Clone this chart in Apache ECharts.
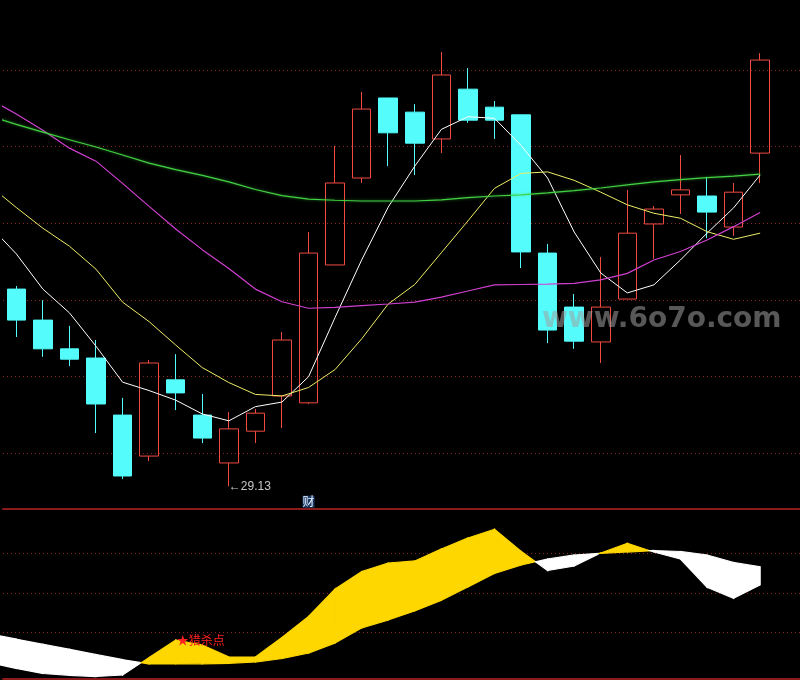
<!DOCTYPE html>
<html><head><meta charset="utf-8">
<script src="https://cdn.jsdelivr.net/npm/echarts@6/dist/echarts.min.js"></script>
<style>html,body{margin:0;padding:0;background:#000}#c{width:800px;height:680px}</style>
</head><body><div id="c"></div>
<script>
// ---- data ----
const categories = ['D00','D01','D02','D03','D04','D05','D06','D07','D08','D09','D10',
  'D11','D12','D13','D14','D15','D16','D17','D18','D19','D20',
  'D21','D22','D23','D24','D25','D26','D27','D28','D29','D30'];
// [open, close, low, high]
const candles = ['-',
  [34.28,33.47,33.03,34.36],[33.47,32.72,32.51,33.99],[32.72,32.45,32.27,33.32],
  [32.48,31.28,30.52,32.95],[30.99,29.40,29.32,31.44],[29.92,32.35,29.79,32.43],
  [31.91,31.57,31.12,32.58],[30.99,30.39,30.26,31.54],[29.74,30.63,29.13,31.07],
  [30.57,31.04,30.26,31.15],[31.49,32.95,30.65,33.16],[31.31,35.22,31.28,35.77],
  [34.91,37.05,34.91,38.02],[37.18,38.98,37.05,39.43],[39.27,38.36,37.49,39.27],
  [38.90,38.09,37.26,39.11],[38.20,39.87,37.83,40.47],[39.50,38.69,38.62,40.05],
  [39.03,38.69,38.20,39.19],[38.83,35.25,34.83,38.83],[35.22,33.21,32.87,35.46],
  [33.81,32.92,32.72,34.15],[32.90,33.81,32.35,35.12],[34.02,35.74,34.02,36.87],
  [35.98,36.37,35.07,36.45],[36.74,36.87,36.24,37.78],[36.71,36.29,35.61,37.21],
  [35.90,36.81,35.67,37.05],[37.83,40.26,37.05,40.44],'-'];
const ma5  = [35.93,35.20,34.28,33.66,32.79,31.85,31.63,31.38,31.02,30.84,31.21,31.33,31.99,33.54,35.04,36.42,37.49,38.45,38.78,38.74,38.03,37.18,35.77,34.70,34.18,34.39,35.04,35.74,36.40,37.26,'-'];
const ma10 = [36.98,36.41,35.87,35.40,34.80,33.94,33.43,32.82,32.23,31.84,31.53,31.49,31.71,32.18,32.98,33.89,34.40,35.23,36.06,36.91,37.30,37.34,37.12,36.81,36.48,36.26,36.13,35.78,35.58,35.74,'-'];
const ma20 = [39.24,38.85,38.43,37.96,37.62,37.04,36.44,35.85,35.31,34.82,34.28,33.95,33.78,33.80,33.85,33.89,33.94,34.07,34.23,34.39,34.40,34.41,34.43,34.52,34.69,35.04,35.26,35.56,35.91,36.28,'-'];
const ma60 = [38.80,38.58,38.38,38.18,37.99,37.78,37.57,37.40,37.25,37.08,36.88,36.72,36.63,36.60,36.58,36.58,36.58,36.61,36.67,36.71,36.74,36.79,36.85,36.92,37.00,37.08,37.14,37.19,37.23,37.28,'-'];
const ind1 = [-3.01,-7.27,-11.14,-12.51,-13.42,-12.28,1.01,14.30,10.51,1.39,1.39,16.20,32.15,53.04,66.33,72.78,74.30,83.42,91.77,98.38,81.75,67.09,70.51,80.38,87.75,81.14,75.82,54.33,45.97,56.08];
const ind2 = [18.86,14.99,11.11,7.24,3.29,-0.58,-3.92,-3.92,-3.77,-3.39,-2.40,0.25,4.43,12.03,23.42,29.49,36.41,44.46,54.56,64.81,71.27,75.90,78.86,80.15,81.14,82.28,81.52,78.86,73.16,69.97];
const priceGrid = [30,32,34,36,38,40];
const indGrid = [20,50,80];
const lowLabel = {idx: 9, value: 29.13};
const caiLabel = {idx: 12, value: 28.73, text: '财'};
const huntLabel = {idx: 7, text: '★猎杀点'};
const watermark = 'www.6o7o.com';

// ---- styles ----
const UP = '#f04a40', DOWN = '#54fcfc';
const FILL_UP = '#ffd700', FILL_DOWN = '#ffffff';
const GRIDC = '#8b2222';

const segs = [];
for (let i = 0; i < ind1.length - 1; i++) segs.push([i, ind1[i], ind2[i], ind1[i+1], ind2[i+1]]);

const chart = echarts.init(document.getElementById('c'), null, {renderer: 'canvas'});
const axisX = (gi) => ({
  type: 'category', gridIndex: gi, data: categories, boundaryGap: true,
  min: 1, max: categories.length - 1,
  axisTick: {show: false}, axisLabel: {show: false}, splitLine: {show: false},
  axisLine: {show: true, onZero: false, lineStyle: {color: '#8b1a1a', width: 2}}
});
const gridMark = (levels) => ({
  z: 1, silent: true, symbol: ['none','none'], animation: false,
  label: {show: false},
  lineStyle: {color: GRIDC, type: [1,3], width: 1},
  emphasis: {disabled: true},
  data: levels.map(v => ({yAxis: v}))
});
const maLine = (data, style) => ({type: 'line', xAxisIndex: 0, yAxisIndex: 0, data: data,
  symbol: 'none', z: 3, clip: false, lineStyle: style});

chart.setOption({
  backgroundColor: '#000',
  animation: false,
  grid: [
    {left: 3, right: 0, top: 0, height: 509},
    {left: 3, right: 0, top: 509, height: 170}
  ],
  xAxis: [axisX(0), axisX(1)],
  yAxis: [
    {type: 'value', gridIndex: 0, min: 28.538, max: 41.828, show: false, splitLine: {show: false}},
    {type: 'value', gridIndex: 1, min: -15.31, max: 113.80, show: false, splitLine: {show: false}}
  ],
  graphic: [{
    type: 'text', z: 100, silent: true,
    style: {x: 542, y: 320, text: watermark, verticalAlign: 'middle',
      font: 'bold 28px "DejaVu Sans"', fill: 'rgba(160,160,160,0.55)'}
  }],
  series: [
    {type: 'line', xAxisIndex: 0, yAxisIndex: 0, data: ma60.map(() => '-'), z: 1,
      symbol: 'none', lineStyle: {opacity: 0}, markLine: gridMark(priceGrid)},
    {type: 'candlestick', xAxisIndex: 0, yAxisIndex: 0, data: candles, barWidth: 19, z: 2,
      itemStyle: {color: 'rgba(0,0,0,0)', color0: DOWN, borderColor: UP, borderColor0: DOWN, borderWidth: 1},
      markPoint: {
        symbol: 'circle', symbolSize: 0, silent: true, animation: false,
        data: [
          {coord: [categories[lowLabel.idx], lowLabel.value],
            label: {show: true, position: 'right', distance: 0, formatter: '←' + lowLabel.value.toFixed(2),
              color: '#c8c8c8', fontSize: 12, fontFamily: '"Liberation Sans", Arial, sans-serif'}},
          {coord: [categories[caiLabel.idx], caiLabel.value],
            label: {show: true, position: 'inside', formatter: caiLabel.text, color: '#e8f4ff',
              backgroundColor: '#1c3a66', padding: [1, 0, 0, 0], fontSize: 12, lineHeight: 11,
              fontFamily: '"Noto Sans CJK SC", sans-serif'}}
        ]
      }},
    maLine(ma5, {color: '#ffffff', width: 1}),
    maLine(ma10, {color: '#eeee66', width: 1}),
    maLine(ma20, {color: '#d040d0', width: 1.2}),
    maLine(ma60, {color: '#44d044', width: 1.2, shadowColor: 'rgba(60,220,60,0.6)', shadowBlur: 3}),
    // bottom panel
    {type: 'line', xAxisIndex: 1, yAxisIndex: 1, data: ind1.map(() => '-'), symbol: 'none', z: 1,
      lineStyle: {opacity: 0}, markLine: gridMark(indGrid),
      markPoint: {
        symbol: 'circle', symbolSize: 0, silent: true, animation: false, z: 10,
        data: [{coord: [categories[huntLabel.idx], ind1[huntLabel.idx]],
          label: {show: true, position: 'right', distance: 1, formatter: huntLabel.text,
            color: '#ff2020', fontSize: 12, fontFamily: '"Noto Sans CJK SC", sans-serif'}}]
      }},
    {type: 'custom', xAxisIndex: 1, yAxisIndex: 1, data: segs, z: 2, clip: false,
      encode: {x: 0, y: [1,2,3,4]},
      renderItem: function (params, api) {
        const i = api.value(0);
        const a1 = api.value(1), a2 = api.value(2), b1 = api.value(3), b2 = api.value(4);
        const P1a = api.coord([i, a1]), P2a = api.coord([i, a2]);
        const P1b = api.coord([i + 1, b1]), P2b = api.coord([i + 1, b2]);
        const da = a1 - a2, db = b1 - b2;
        const col = d => d >= 0 ? FILL_UP : FILL_DOWN;
        const poly = (pts, c) => ({type: 'polygon', shape: {points: pts},
          style: {fill: c, stroke: c, lineWidth: 1.2}});
        let children;
        if (da * db >= 0) {
          children = [poly([P1a, P1b, P2b, P2a], col(da !== 0 ? da : db))];
        } else {
          const t = da / (da - db);
          const X = [P1a[0] + t * (P1b[0] - P1a[0]), P1a[1] + t * (P1b[1] - P1a[1])];
          children = [poly([P1a, X, P2a], col(da)), poly([X, P1b, P2b], col(db))];
        }
        return {type: 'group', children: children};
      }}
  ]
});
</script>
</body></html>
